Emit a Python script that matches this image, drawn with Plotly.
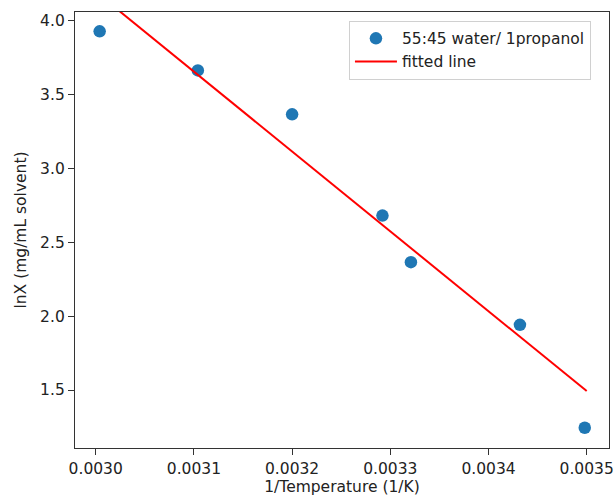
import plotly.graph_objects as go

# data
inv_temp = [0.003004, 0.003104, 0.003200, 0.003292, 0.003321, 0.003432, 0.003498]
ln_x = [3.926, 3.662, 3.365, 2.680, 2.365, 1.941, 1.245]

# fitted line end points (as drawn)
fit_x = [0.003004, 0.003500]
fit_y = [4.172, 1.493]

x_ticks = [0.0030, 0.0031, 0.0032, 0.0033, 0.0034, 0.0035]
y_ticks = [1.5, 2.0, 2.5, 3.0, 3.5, 4.0]

FONT = 'DejaVu Sans, Arial, sans-serif'
TEXT = '#222222'

fig = go.Figure()

fig.add_trace(go.Scatter(
    x=inv_temp,
    y=ln_x,
    mode='markers',
    name='55:45 water/ 1propanol',
    marker={'color': '#1f77b4', 'size': 12.5},
))

fig.add_trace(go.Scatter(
    x=fit_x,
    y=fit_y,
    mode='lines',
    name='fitted line',
    line={'color': 'red', 'width': 2},
))

axis_common = {
    'showline': True,
    'linecolor': '#333333',
    'linewidth': 1.3,
    'mirror': True,
    'ticks': 'outside',
    'ticklen': 6,
    'tickwidth': 1.3,
    'tickcolor': '#333333',
    'showgrid': False,
    'zeroline': False,
    'automargin': False,
    'tickfont': {'family': FONT, 'size': 15.5, 'color': TEXT},
    'title_font': {'family': FONT, 'size': 15.5, 'color': TEXT},
}

fig.update_layout(
    width=614,
    height=497,
    margin={'l': 75, 'r': 5, 't': 12, 'b': 49},
    plot_bgcolor='white',
    paper_bgcolor='white',
    font={'family': FONT, 'size': 15.5, 'color': TEXT},
    xaxis={
        **axis_common,
        'range': [0.0029789, 0.0035227],
        'tickvals': x_ticks,
        'tickformat': '.4f',
        'title': {'text': '1/Temperature (1/K)', 'standoff': 4},
    },
    yaxis={
        **axis_common,
        'range': [1.108, 4.057],
        'tickvals': y_ticks,
        'tickformat': '.1f',
        'title': {'text': 'lnX (mg/mL solvent)', 'standoff': 9},
    },
    legend={
        'x': 0.513,
        'y': 0.98,
        'xanchor': 'left',
        'yanchor': 'top',
        'bordercolor': '#d0d0d0',
        'borderwidth': 1,
        'bgcolor': 'rgba(255,255,255,0.8)',
        'font': {'family': FONT, 'size': 15.5, 'color': TEXT},
        'itemwidth': 42,
        'tracegroupgap': 0,
    },
    showlegend=True,
)

# the page opens with the browser's default 8px body margin; drop it so the
# figure sits at the top-left corner like the reference image
fig.write_html(
    "out.html",
    config={'displayModeBar': False},
    post_script="document.body.style.margin='0';",
)
